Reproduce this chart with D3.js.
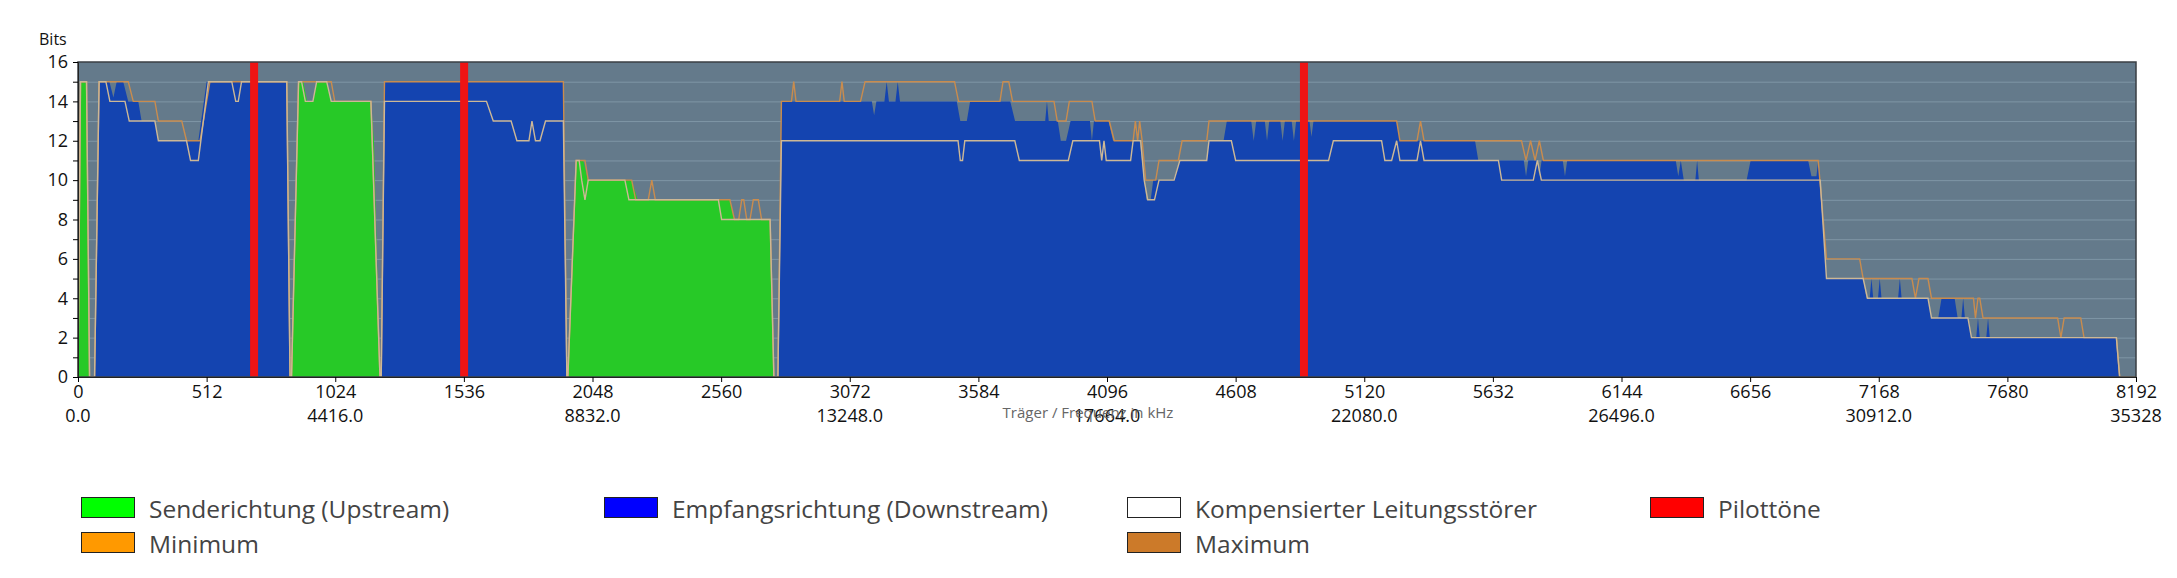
<!DOCTYPE html>
<html>
<head>
<meta charset="utf-8">
<script src="https://cdn.jsdelivr.net/npm/d3@7"></script>
<style>
  body { margin: 0; background: #fff; font-family: 'Open Sans', sans-serif; }
</style>
</head>
<body>
<div id="chart"></div>
<script>
// bits per carrier: [carrier, bits]
const upstreamBits = [
  [0,0],[2,0],[10,15],[34,15],[46,0],
  [850,0],[878,15],[897,15],[912,14],[935,14],[950,15],[990,15],[1008,14],[1166,14],[1178,12],[1190,6],[1202,0],
  [1950,0],[1983,11],[2011,11],[2030,10],[2204,10],[2228,9],[2595,9],[2613,8],[2755,8],[2770,0],
  [8192,0]
];

const downstreamBits = [
  [0,0],[66,0],[84,15],[125,15],[141,14.2],[154,15],[180,15],[200,14],[240,14],[253,13],[306,13],[320,12],[479,12],[512,15],[831,15],[844,0],
  [1207,0],[1220,15],[1932,15],[1946,0],
  [2786,0],[2800,14],[3160,14],[3169,13.3],[3178,14],[3210,14],[3219,15],[3228,14],[3254,14],[3263,15],[3272,14],[3498,14],[3512,13],[3538,13],[3551,14],
  [3711,14],[3730,13],[3850,13],[3857,14],[3864,13],[3900,13],[3912,12],[3933,12],[3951,13],[4028,13],[4036,12],[4044,13],[4102,13],[4120,12],[4226,12],
  [4253,9],[4270,9],[4280,10],[4360,10],[4386,11],[4493,11],[4502,12],[4560,12],[4573,13],[4670,13],[4680,12],[4690,13],[4724,13],[4733,12],[4742,13],
  [4786,13],[4795,12],[4804,13],[4831,13],[4840,12],[4849,13],[4902,13],[4910,12.2],[4918,13],[5249,13],[5262,12],[5561,12],[5574,11],[5755,11],
  [5764,10.2],[5773,11],[5808,11],[5817,10.2],[5826,11],[5910,11],[5919,10.2],[5928,11],[6360,11],[6370,10.2],[6380,11],[6392,10],[6438,10],[6445,11],
  [6452,10],[6642,10],[6658,11],[6887,11],[6900,10.2],[6920,10.2],[6927,11],[6935,10],[6948,8],[6960,5],[7106,5],[7119,4],[7132,4],[7139,5],[7146,4],
  [7165,4],[7172,5],[7179,4],[7245,4],[7252,5],[7259,4],[7364,4],[7378,3],[7405,3],[7418,4],[7470,4],[7482,3],[7497,3],[7504,4],[7511,3],[7525,3],
  [7537,2],[7556,2],[7563,3],[7570,2],[7596,2],[7603,3],[7610,2],[8114,2],[8127,0],[8192,0]
];

const minBits = [
  [0,0],[10,15],[34,15],[46,0],[66,0],[84,15],[111,15],[127,14],[187,14],[204,13],[306,13],[320,12],[432,12],[448,11],[479,11],[519,15],[612,15],
  [628,14],[638,14],[651,15],[831,15],[844,0],
  [850,0],[878,15],[890,15],[905,14],[935,14],[950,15],[990,15],[1008,14],[1166,14],[1202,0],
  [1207,0],[1220,14],[1626,14],[1653,13],[1724,13],[1747,12],[1795,12],[1807,13],[1821,12],[1839,12],[1861,13],[1932,13],[1946,0],
  [1950,0],[1983,11],[1995,11],[2005,10],[2018,9],[2031,10],[2177,10],[2193,9],[2549,9],[2562,8],[2755,8],[2770,0],
  [2786,0],[2800,12],[3503,12],[3512,11],[3521,11],[3530,12],[3729,12],[3747,11],[3942,11],[3960,12],[4066,12],[4075,11],[4084,12],[4093,11],
  [4190,11],[4200,12],[4230,12],[4244,10],[4258,9],[4285,9],[4303,10],[4363,10],[4386,11],[4493,11],[4502,12],[4591,12],[4608,11],[4978,11],
  [4997,12],[5189,12],[5202,11],[5229,11],[5249,12],[5262,11],[5330,11],[5344,12],[5358,11],[5654,11],[5667,10],[5793,10],[5809,11],[5825,10],
  [6935,10],[6960,5],[7106,5],[7123,4],[7364,4],[7378,3],[7523,3],[7537,2],[8114,2],[8127,0],[8192,0]
];

const maxBits = [
  [0,0],[10,15],[34,15],[46,0],[66,0],[84,15],[200,15],[220,14],[306,14],[320,13],[413,13],[432,12],[486,12],[525,15],[831,15],[844,0],
  [850,0],[878,15],[1008,15],[1022,14],[1166,14],[1202,0],
  [1207,0],[1220,15],[1932,15],[1946,0],
  [1950,0],[1983,11],[2018,11],[2031,10],[2204,10],[2220,9],[2270,9],[2284,10],[2298,9],[2595,9],[2613,8],[2630,8],[2642,9],[2650,9],[2662,8],
  [2675,8],[2688,9],[2708,9],[2721,8],[2755,8],[2770,0],
  [2786,0],[2800,14],[2840,14],[2849,15],[2858,14],[3032,14],[3041,15],[3050,14],[3115,14],[3133,15],[3489,15],[3505,14],[3670,14],[3682,15],
  [3705,15],[3720,14],[3885,14],[3898,13],[3933,13],[3946,14],[4036,14],[4049,13],[4105,13],[4125,12],[4200,12],[4209,13],[4218,12],[4226,13],
  [4236,12],[4250,10],[4290,10],[4303,11],[4380,11],[4395,12],[4493,12],[4502,13],[5249,13],[5262,12],[5330,12],[5344,13],[5358,12],[5746,12],
  [5764,11],[5782,12],[5800,11],[5817,12],[5833,11],[6927,11],[6960,6],[7092,6],[7106,5],[7300,5],[7314,4],[7328,5],[7364,5],[7378,4],[7545,4],
  [7553,3],[7563,4],[7570,4],[7583,3],[7880,3],[7893,2],[7906,3],[7972,3],[7985,2],[8114,2],[8127,0],[8192,0]
];

const pilotTones = [701, 1537, 4880];

const carrierTicks = [0,512,1024,1536,2048,2560,3072,3584,4096,4608,5120,5632,6144,6656,7168,7680,8192];
const freqTicks = [0,1024,2048,3072,4096,5120,6144,7168,8192];
const freqLabels = ['0.0','4416.0','8832.0','13248.0','17664.0','22080.0','26496.0','30912.0','35328'];
const bitTicks = [0,1,2,3,4,5,6,7,8,9,10,11,12,13,14,15,16];

const legendNames = ['Senderichtung (Upstream)','Empfangsrichtung (Downstream)','Kompensierter Leitungsstörer','Pilottöne','Minimum','Maximum'];
const legendColors = ['#00ff00','#0000ff','#ffffff','#ff0000','#ff9900','#cc7a29'];
const legendSlots = [[0,0],[1,0],[2,0],[3,0],[0,1],[2,1]];

const width = 2177, height = 578;
const margin = { top: 62, right: 41, bottom: 201, left: 78 };

const svg = d3.select('#chart').append('svg')
  .attr('width', width)
  .attr('height', height);

// escalas
const x = d3.scaleLinear()
  .domain([0, 8192])
  .range([margin.left, width - margin.right]);

const y = d3.scaleLinear()
  .domain([0, 16])
  .range([height - margin.bottom, margin.top]);

// plot background
svg.append('rect')
  .attr('x', x(0))
  .attr('y', y(16))
  .attr('width', x(8192) - x(0))
  .attr('height', y(0) - y(16))
  .attr('fill', '#647a8b');

// grid
svg.append('g')
  .selectAll('line')
  .data(bitTicks.filter(d => d > 0 && d < 16))
  .join('line')
  .attr('x1', x(0))
  .attr('x2', x(8192))
  .attr('y1', d => y(d) + 0.5)
  .attr('y2', d => y(d) + 0.5)
  .attr('stroke', '#7f96a6')
  .attr('stroke-width', 1);

const area = d3.area()
  .x(d => x(d[0]))
  .y0(y(0))
  .y1(d => y(d[1]));

const line = d3.line()
  .x(d => x(d[0]))
  .y(d => y(d[1]));

svg.append('path')
  .datum(downstreamBits)
  .attr('d', area)
  .attr('fill', '#1444b0');

svg.append('path')
  .datum(upstreamBits)
  .attr('d', area)
  .attr('fill', '#27c927');

svg.append('path')
  .datum(maxBits)
  .attr('d', line)
  .attr('fill', 'none')
  .attr('stroke', '#c98c4e')
  .attr('stroke-width', 1.4);

svg.append('path')
  .datum(minBits)
  .attr('d', line)
  .attr('fill', 'none')
  .attr('stroke', '#cdb896')
  .attr('stroke-width', 1.4);

// pilot tones
svg.append('g')
  .selectAll('rect')
  .data(pilotTones)
  .join('rect')
  .attr('x', d => x(d) - 4)
  .attr('y', y(16))
  .attr('width', 8)
  .attr('height', y(0) - y(16))
  .attr('fill', '#ee1414');

// frame
svg.append('rect')
  .attr('x', x(0))
  .attr('y', y(16))
  .attr('width', x(8192) - x(0))
  .attr('height', y(0) - y(16))
  .attr('fill', 'none')
  .attr('stroke', '#3a3f44')
  .attr('stroke-width', 1.5);

// eje Y
const yAxis = svg.append('g')
  .attr('transform', `translate(${x(0)},0)`)
  .call(d3.axisLeft(y).tickValues(bitTicks).tickSize(5).tickPadding(5)
    .tickFormat(d => d % 2 ? '' : d));
yAxis.selectAll('text')
  .style('font-family', "'Open Sans', sans-serif")
  .style('font-size', '18px')
  .attr('fill', '#111');
yAxis.select('.domain').attr('stroke', '#222');

// eje X
const xAxis = svg.append('g')
  .attr('transform', `translate(0,${y(0)})`)
  .call(d3.axisBottom(x).tickValues(carrierTicks).tickSize(5).tickPadding(3)
    .tickFormat(d3.format('d')));
xAxis.selectAll('text')
  .style('font-family', "'Open Sans', sans-serif")
  .style('font-size', '18px')
  .attr('fill', '#111');
xAxis.select('.domain').attr('stroke', '#222');

svg.append('g')
  .selectAll('text')
  .data(freqTicks)
  .join('text')
  .attr('x', d => x(d))
  .attr('y', 422)
  .attr('text-anchor', 'middle')
  .style('font-size', '18px')
  .attr('fill', '#111')
  .text((d, i) => freqLabels[i]);

svg.append('text')
  .attr('x', 1088)
  .attr('y', 418)
  .attr('text-anchor', 'middle')
  .style('font-size', '15px')
  .attr('fill', '#666')
  .text('Träger / Frequenz in kHz');

svg.append('text')
  .attr('x', 39)
  .attr('y', 45)
  .style('font-size', '16px')
  .attr('fill', '#111')
  .text('Bits');

// leyenda
const legend = svg.append('g');
legendNames.forEach((name, i) => {
  const lx = 81 + legendSlots[i][0] * 523;
  const ly = 497 + legendSlots[i][1] * 35;
  legend.append('rect')
    .attr('x', lx + 0.5)
    .attr('y', ly + 0.5)
    .attr('width', 53)
    .attr('height', 20)
    .attr('fill', legendColors[i])
    .attr('stroke', '#222')
    .attr('stroke-width', 1);
  legend.append('text')
    .attr('x', lx + 68)
    .attr('y', ly + 21)
    .style('font-size', '24.5px')
    .attr('fill', '#444')
    .text(name);
});
</script>
</body>
</html>
